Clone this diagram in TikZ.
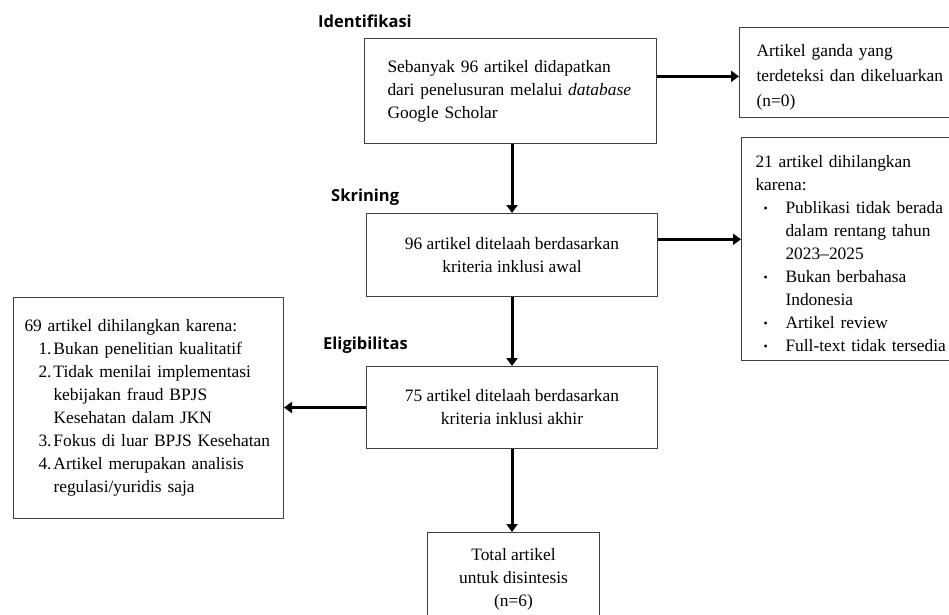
\documentclass[tikz,border=0pt]{standalone}
\usepackage{fontspec}
\setmainfont{Liberation Serif}
\newfontfamily\stagefont{Open Sans}
\usetikzlibrary{arrows.meta,calc}
\newcommand{\blt}{\hspace*{8pt}\makebox[22pt][l]{\fontsize{12}{12}\selectfont\raisebox{1pt}{•}}}
\newcommand{\bind}{\hspace*{30pt}}
\newcommand{\numi}[1]{\hspace*{14pt}\makebox[15pt][l]{#1}}
\newcommand{\nind}{\hspace*{29pt}}
\begin{document}
\begin{tikzpicture}[x=1pt,y=-1pt,
  box/.style={draw=black!75, line width=1pt, inner sep=0pt, anchor=north west,
    font=\fontsize{17.4}{23}\selectfont},
  flow/.style={line width=3pt, -{Triangle[width=11pt,length=8pt]}},
  stage/.style={font=\stagefont\bfseries\fontsize{16.5}{20}\selectfont, inner sep=0pt, anchor=west}]
\useasboundingbox (0,0) rectangle (949,614);
\fill[white] (0,0) rectangle (949,614);

\node[stage] (lid) at (318,21) {Identifikasi};
\node[stage] (lsk) at (331,197) {Skrining};
\node[stage] (lel) at (323,345) {Eligibilitas};

\node[box, minimum width=292pt, minimum height=105pt, text width=246pt, align=left] (b1) at (364,38)
  {\mbox{Sebanyak 96 artikel didapatkan}\\\mbox{dari penelusuran melalui \textit{database}}\\Google Scholar};

\node[box, minimum width=236pt, minimum height=90pt, text width=202pt, align=left,
  font=\fontsize{17.4}{25}\selectfont] (dup) at (739,27)
  {\mbox{\rule{0pt}{22pt}Artikel ganda yang}\\\mbox{terdeteksi dan dikeluarkan}\\(n=0)};

\node[box, minimum width=291pt, minimum height=83pt, align=center] (b2) at (366,213)
  {96 artikel ditelaah berdasarkan\\kriteria inklusi awal};

\node[box, minimum width=240pt, minimum height=223pt, text width=212pt, align=left] (r21) at (741,137)
  {\mbox{\rule{0pt}{22pt}21 artikel dihilangkan}\\karena:\\
   \mbox{\blt Publikasi tidak berada}\\
   \mbox{\bind dalam rentang tahun}\\
   \mbox{\bind 2023–2025}\\
   \mbox{\blt Bukan berbahasa}\\
   \mbox{\bind Indonesia}\\
   \mbox{\blt Artikel review}\\
   \mbox{\blt Full-text tidak tersedia}};

\node[box, minimum width=291pt, minimum height=82pt, align=center] (b3) at (366,366)
  {75 artikel ditelaah berdasarkan\\kriteria inklusi akhir};

\node[box, minimum width=270pt, minimum height=221pt, text width=248pt, align=left] (ex) at (13,297)
  {\mbox{69 artikel dihilangkan karena:}\\
   \mbox{\numi{1.}Bukan penelitian kualitatif}\\
   \mbox{\numi{2.}Tidak menilai implementasi}\\
   \mbox{\nind kebijakan fraud BPJS}\\
   \mbox{\nind Kesehatan dalam JKN}\\
   \mbox{\numi{3.}Fokus di luar BPJS Kesehatan}\\
   \mbox{\numi{4.}Artikel merupakan analisis}\\
   \mbox{\nind regulasi/yuridis saja}};

\node[box, minimum width=172pt, minimum height=93pt, align=center] (fin) at (427,532)
  {Total artikel\\untuk disintesis\\(n=6)};

\draw[flow] (b1.south -| b2.north) -- (b2.north);
\draw[flow] (b2.south) -- (b3.north);
\draw[flow] (b3.south) -- (b3.south |- fin.north);
\coordinate (p1) at ($(b1.north east)!0.362!(b1.south east)$);
\draw[flow] (p1) -- (p1 -| dup.west);
\coordinate (p2) at ($(b2.north east)!0.313!(b2.south east)$);
\draw[flow] (p2) -- (p2 -| r21.west);
\draw[flow] (b3.west) -- (b3.west -| ex.east);
\end{tikzpicture}
\end{document}
